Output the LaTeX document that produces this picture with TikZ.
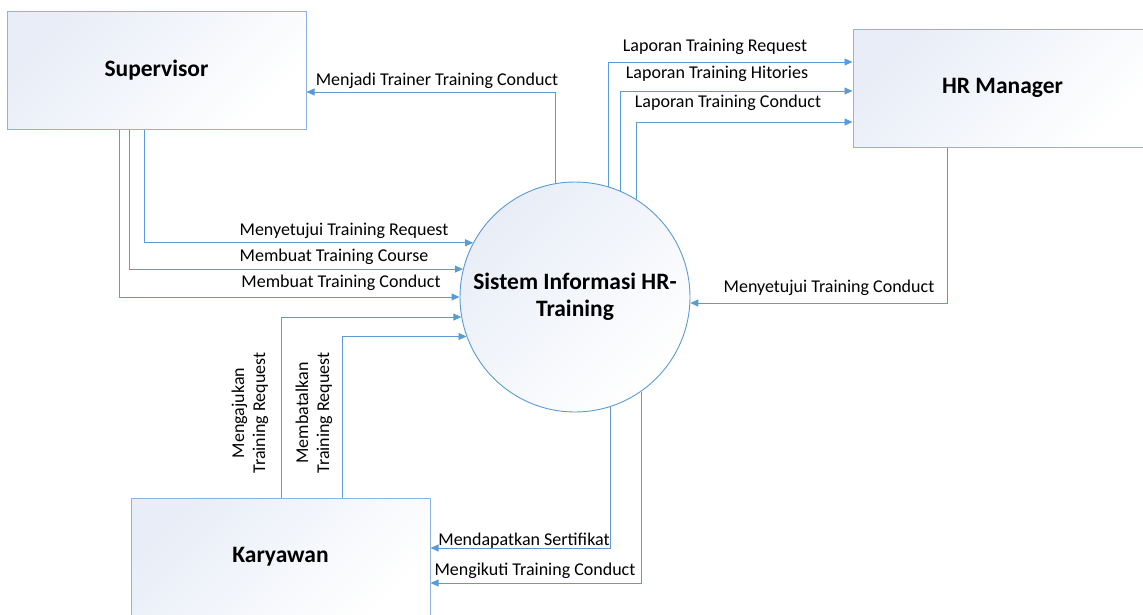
\documentclass[tikz,border=0pt]{standalone}
\usepackage{fontspec}
\setmainfont{Carlito}
\usetikzlibrary{arrows.meta}

\definecolor{flowblue}{HTML}{5B9BD5}
\definecolor{edgeblue}{HTML}{8DB3E2}
\definecolor{fillblue}{HTML}{E8EDF7}

\tikzset{
  entity/.style={draw=edgeblue, line width=1pt, top color=fillblue, bottom color=white,
    shading angle=45, minimum width=299pt, minimum height=118pt,
    font=\fontsize{23.5}{28}\selectfont\bfseries},
  proc/.style={circle, draw=flowblue, line width=0.9pt, top color=fillblue, bottom color=white,
    shading angle=45, minimum size=230pt, align=center,
    font=\fontsize{23.5}{27}\selectfont\bfseries},
  flow/.style={draw=flowblue, line width=0.9pt, -{Triangle[length=8pt,width=7pt]}},
  lbl/.style={font=\fontsize{18}{21}\selectfont, inner sep=0pt}
}

\begin{document}
\begin{tikzpicture}[x=1pt, y=-1pt]
\useasboundingbox (0,0) rectangle (1143,614);

%entities and process
	\node[entity] (supervisor) at (156.5,70) {Supervisor};
	\node[entity] (hrm) at (1002.5,88) {HR Manager};
	\node[entity] (karyawan) at (280.5,557) {Karyawan};
	\node[proc] (sistem) at (575,297) {Sistem Informasi HR-\\Training};

%supervisor -> sistem
	\foreach \dx/\ang in {-12.5/152, -27.5/166.4, -37.5/180}{
		\draw[flow] ([xshift=\dx pt]supervisor.south) |- (sistem.\ang);
	}
	\node[lbl] (setujuireq) at (344,231) {Menyetujui Training Request};
	\node[lbl] (buatcourse) at (334,257) {Membuat Training Course};
	\node[lbl] (buatconduct) at (341,283) {Membuat Training Conduct};

%sistem -> supervisor
	\draw[flow] (sistem.100) |- ([yshift=-22pt]supervisor.east);
	\node[lbl] (trainer) at (437,81) {Menjadi Trainer Training Conduct};

%sistem -> hr manager
	\foreach \ang/\dy in {73.8/26, 67/-3, 58/-34}{
		\draw[flow] (sistem.\ang) |- ([yshift=\dy pt]hrm.west);
	}
	\node[lbl] (lapreq) at (715,47) {Laporan Training Request};
	\node[lbl] (laphist) at (717,74) {Laporan Training Hitories};
	\node[lbl] (lapconduct) at (728,103) {Laporan Training Conduct};

%hr manager -> sistem
	\draw[flow] ([xshift=-55.5pt]hrm.south) |- (sistem.357);
	\node[lbl] (setujuiconduct) at (829,288) {Menyetujui Training Conduct};

%karyawan -> sistem
	\draw[flow] ([xshift=0.5pt]karyawan.north) |- (sistem.190.5);
	\draw[flow] ([xshift=61.5pt]karyawan.north) |- (sistem.200.9);
	\node[lbl, rotate=90, align=center] (ajukan) at (250,413) {Mengajukan\\Training Request};
	\node[lbl, rotate=90, align=center] (batalkan) at (314,413) {Membatalkan\\Training Request};

%sistem -> karyawan
	\draw[flow] (sistem.288.8) |- ([yshift=9pt]karyawan.east);
	\draw[flow] (sistem.305) |- ([yshift=-26pt]karyawan.east);
	\node[lbl] (sertifikat) at (524,541) {Mendapatkan Sertifikat};
	\node[lbl] (ikuti) at (535,571) {Mengikuti Training Conduct};

\end{tikzpicture}
\end{document}
